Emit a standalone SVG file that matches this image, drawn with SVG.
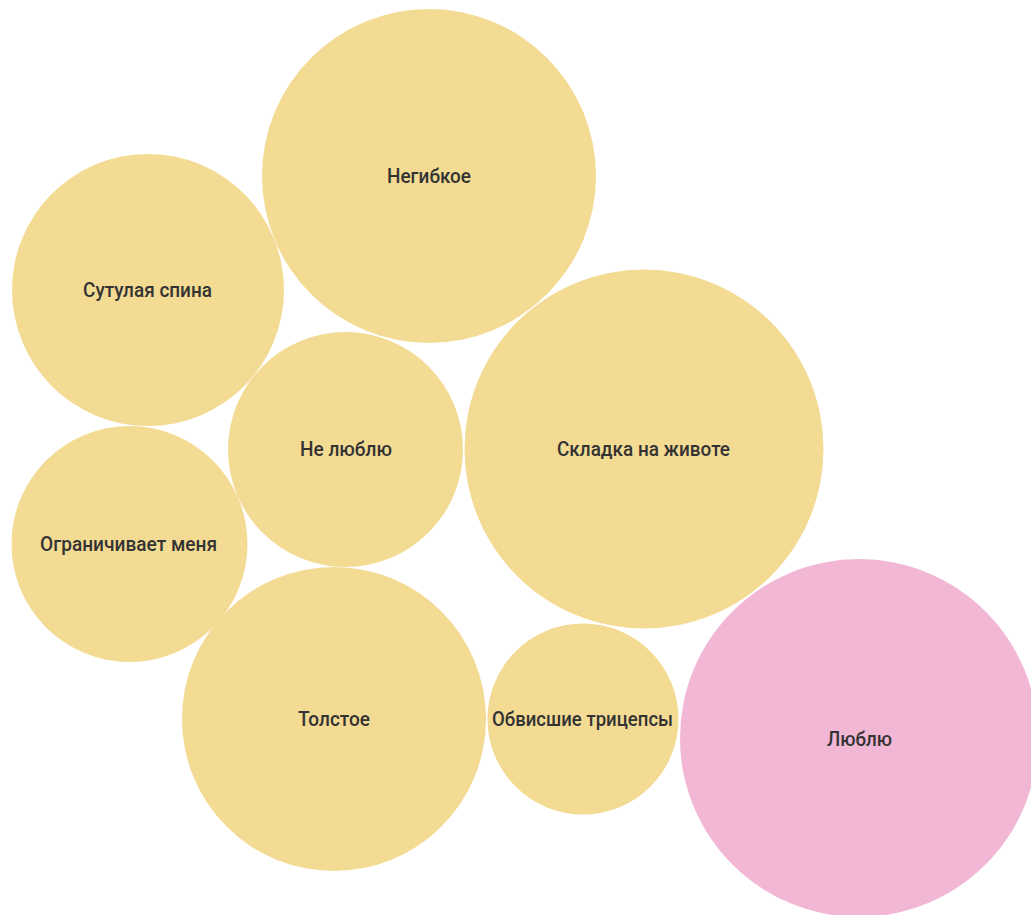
<svg xmlns="http://www.w3.org/2000/svg" width="1031" height="915" viewBox="0 0 1031 915">
<style>
.y{fill:#F3DB93}
.p{fill:#F2B7D5}
text{font-family:"Roboto","Liberation Sans",sans-serif;font-size:20px;font-weight:500;fill:#333333;text-anchor:middle}
</style>
<rect width="1031" height="915" fill="#ffffff"/>
<g id="negibkoe"><circle class="y" cx="429" cy="176" r="167"/><text x="429" y="183" textLength="84" lengthAdjust="spacingAndGlyphs">Негибкое</text></g>
<g id="sutulaya"><circle class="y" cx="148" cy="290" r="136"/><text x="147.5" y="297" textLength="129" lengthAdjust="spacingAndGlyphs">Сутулая спина</text></g>
<g id="ne-lyublyu"><circle class="y" cx="345.5" cy="449.5" r="117.5"/><text x="346" y="456" textLength="92" lengthAdjust="spacingAndGlyphs">Не люблю</text></g>
<g id="skladka"><circle class="y" cx="644" cy="449" r="179.5"/><text x="643.5" y="456" textLength="173" lengthAdjust="spacingAndGlyphs">Складка на животе</text></g>
<g id="ogranichivaet"><circle class="y" cx="129.5" cy="544" r="118"/><text x="128.5" y="551" textLength="177" lengthAdjust="spacingAndGlyphs">Ограничивает меня</text></g>
<g id="tolstoe"><circle class="y" cx="334" cy="719" r="152"/><text x="334" y="726" textLength="72" lengthAdjust="spacingAndGlyphs">Толстое</text></g>
<g id="obvisshie"><circle class="y" cx="583" cy="719" r="95.5"/><text x="582.5" y="726" textLength="181" lengthAdjust="spacingAndGlyphs">Обвисшие трицепсы</text></g>
<g id="lyublyu"><circle class="p" cx="859" cy="738" r="179"/><text x="859.5" y="746" textLength="65" lengthAdjust="spacingAndGlyphs">Люблю</text></g>
<g id="connectors"></g>
</svg>
